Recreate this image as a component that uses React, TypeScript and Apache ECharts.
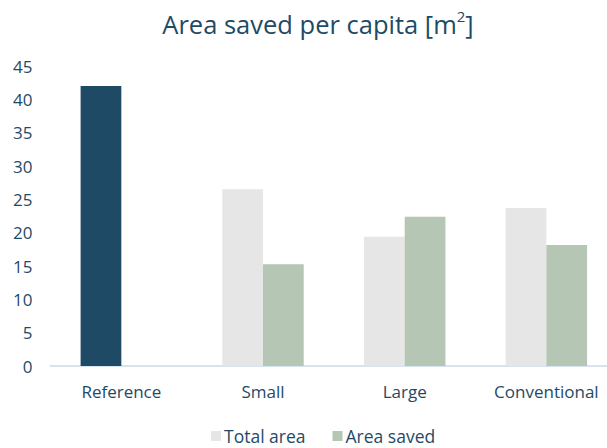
import React, { useEffect, useRef } from "react";
import * as echarts from "echarts";

const categories = ["Reference", "Small", "Large", "Conventional"];
const totalArea = [42, 26.5, 19.4, 23.7];
const areaSaved: (number | null)[] = [null, 15.25, 22.4, 18.15];
const yTicks = { min: 0, max: 45, interval: 5 };

const TEXT = "#1F4A66";
const FONT = "Open Sans";
const CHART_W = 630;

export default function App() {
  const ref = useRef<HTMLDivElement>(null);
  useEffect(() => {
    if (!ref.current) return;
    const chart = echarts.init(ref.current, undefined, { renderer: "svg" });
    chart.setOption({
      animation: false,
      backgroundColor: "#ffffff",
      textStyle: { fontFamily: FONT },
      title: {
        text: "Area saved per capita [m{sup|2}]",
        left: 318,
        textAlign: "center",
        top: 8,
        padding: 0,
        textStyle: {
          fontFamily: FONT,
          fontSize: 25.5,
          fontWeight: "normal",
          color: TEXT,
          lineHeight: 32,
          rich: {
            sup: { fontSize: 15, color: TEXT, fontFamily: FONT, verticalAlign: "top", lineHeight: 24 },
          },
        },
      },
      legend: {
        top: 427,
        left: 211,
        padding: 0,
        itemWidth: 10,
        itemHeight: 10,
        itemGap: 27,
        icon: "rect",
        textStyle: { fontFamily: FONT, fontSize: 17.5, lineHeight: 18, color: TEXT, padding: [0, 0, 0, -2] },
        data: [
          { name: "Total area", itemStyle: { color: "#E6E6E6" } },
          { name: "Area saved", itemStyle: { color: "#B5C7B4" } },
        ],
      },
      grid: { left: 50.5, top: 66, width: 566.7, height: 300, containLabel: false },
      xAxis: {
        type: "category",
        data: categories,
        axisLine: { show: true, lineStyle: { color: "#D6E4F0", width: 2 } },
        axisTick: { show: false },
        axisLabel: { color: TEXT, fontSize: 17, fontFamily: FONT, margin: 17 },
      },
      yAxis: {
        type: "value",
        min: yTicks.min,
        max: yTicks.max,
        interval: yTicks.interval,
        splitLine: { show: false },
        axisLine: { show: false },
        axisTick: { show: false },
        axisLabel: { color: TEXT, fontSize: 17, fontFamily: FONT, margin: 18 },
      },
      series: [
        {
          name: "Total area",
          type: "bar",
          barGap: "0%",
          barCategoryGap: "42.5%",
          itemStyle: { color: "#E6E6E6" },
          data: totalArea.map((v, i) =>
            i === 0 ? { value: v, itemStyle: { color: "#1F4A66" } } : v
          ),
        },
        {
          name: "Area saved",
          type: "bar",
          barGap: "0%",
          barCategoryGap: "42.5%",
          itemStyle: { color: "#B5C7B4" },
          data: areaSaved.map((v) => (v === null ? "-" : v)),
        },
      ],
    });
    return () => chart.dispose();
  }, []);
  return (
    <div
      style={{ position: "fixed", left: 0, top: 0, width: 607, height: 448, overflow: "hidden", background: "#fff" }}
    >
      <div ref={ref} style={{ width: CHART_W, height: 448 }} />
    </div>
  );
}
